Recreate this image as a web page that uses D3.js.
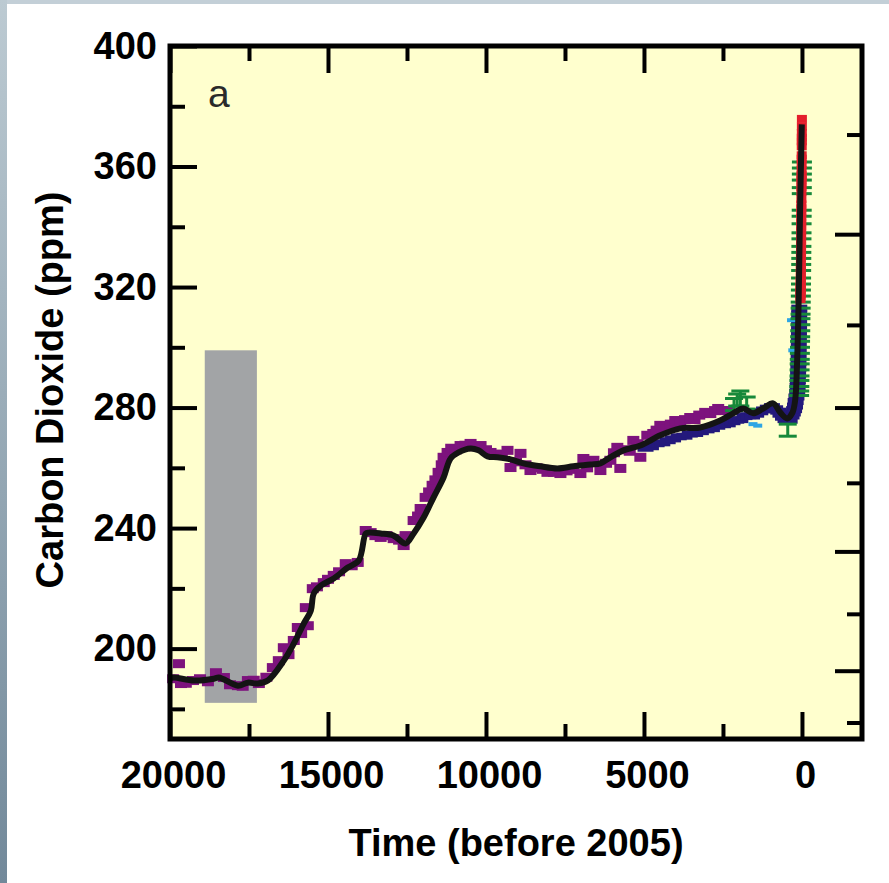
<!DOCTYPE html>
<html>
<head>
<meta charset="utf-8">
<script src="https://cdn.jsdelivr.net/npm/d3@7"></script>
<style>
  body { margin: 0; background: #fff; }
  svg { display: block; }
  text { font-family: "Liberation Sans", Arial, Helvetica, sans-serif; }
</style>
</head>
<body>
<svg id="chart" width="889" height="883"></svg>
<script>
// all points are [years before 2005, CO2 ppm]
var smoothCurve = [
  [20000,190.2],[19874,190.4],[19242,189.4],[18610,190.0],[18452,190.4],[17851,187.7],[17535,188.7],
  [17219,188.4],[16903,189.4],[16398,196.0],[16082,201.7],[15766,208.3],[15544,212.6],[15450,218.3],
  [15228,220.9],[14818,223.3],[14375,226.9],[14027,229.2],[13806,238.2],[13712,238.5],[13333,238.2],
  [12922,237.5],[12544,234.9],[12290,238.2],[11974,243.5],[11658,250.2],[11342,256.8],[11120,263.1],
  [10867,265.1],[10488,266.4],[10236,265.8],[9951,263.8],[9635,263.5],[9224,262.8],[8814,261.5],
  [8276,260.5],[7739,259.8],[7234,260.5],[6696,261.1],[6379,261.5],[6063,263.5],[5652,265.8],
  [5115,267.4],[4483,270.8],[3851,273.1],[3219,273.4],[2587,275.7],[2176,278.1],[1860,279.7],
  [1544,278.1],[1228,279.7],[912,281.4],[690,278.4],[469,276.4],[311,278.1],[216,282.4],
  [160,293.4],[105,315.6],[55,348.8],[5,374]
];

var purplePoints = [
  [19900,190],[19716,195.0],[19652,188.4],[19500,188.5],[19273,189.4],[19050,190],[18800,189],
  [18546,192.0],[18294,190.4],[18100,188],[17851,187.7],[17700,187.5],[17535,189.4],[17350,189.5],
  [17188,188.4],[16950,190.5],[16745,193.7],[16556,196.0],[16398,200.3],[16250,198],[16082,202.7],
  [15955,207.0],[15850,205],[15639,207.6],[15702,213.6],[15481,219.9],[15350,220.5],[15134,221.9],
  [15000,223],[14818,224.3],[14650,225.5],[14438,228.2],[14250,227.5],[14059,228.6],[13806,239.2],
  [13650,238.5],[13500,237.5],[13333,236.9],[13150,237.5],[12922,236.5],[12750,236],[12606,234.2],
  [12544,237.5],[12290,242.5],[12150,244],[12068,246.5],[11910,250.2],[11800,252],[11689,254.2],
  [11600,256],[11500,258.5],[11400,261],[11342,263.5],[11215,265.1],[11100,266.5],[10950,266],
  [10804,267.4],[10650,267.5],[10488,268.1],[10350,267],[10172,267.4],[10000,266],[9856,265.1],
  [9700,264.5],[9500,264.5],[9319,265.8],[9224,260.1],[9050,262],[8908,264.8],[8750,261],
  [8592,259.1],[8400,260],[8200,259.5],[8055,258.5],[7850,258.5],[7644,258.1],[7450,259],
  [7250,259.5],[7012,258.1],[6918,263.1],[6800,260],[6600,262.5],[6379,259.1],[6200,261.5],
  [6063,262.5],[5950,265],[5843,266.8],[5748,259.8],[5600,266],[5450,265.5],[5337,269.1],
  [5200,268],[5115,263.5],[4894,270.8],[4705,271.4],[4600,272.5],[4483,274.1],[4300,273],
  [4150,274.5],[4009,275.7],[3850,275],[3700,276],[3536,276.7],[3400,276],[3250,277.5],
  [3062,278.4],[2900,278],[2750,279],[2651,279.7],[2500,279],[2335,279.0]
];

var navyPoints = [
  [4950,266.5],[4780,267],[4600,268],[4420,268.3],[4250,269],[4080,269.6],[3900,270.3],[3720,270.5],
  [3550,271.2],[3380,271.4],[3200,272],[3020,272.6],[2850,273],[2680,273.8],[2500,274.3],[2350,274.6],
  [2200,275.3],[2080,275.8],[1950,276],[1820,277],[1700,277.3],[1580,277.2],[1450,277.8],[1320,278.6],
  [1200,279.2],[1080,279.8],[950,280.3],[850,279.6],[750,278.8],[680,277.8],[600,276.8],[520,276],
  [450,276.2],[390,275.8],[330,277.2],[290,278.2],[250,279.3],[220,280.5],[200,282],[175,283.5],
  [150,285],[138,287],[130,289],[122,291],[115,293],[110,295],[105,297],[102,299],[100,301],[97,303],
  [95,305],[92,307],[90,309],[88,311],[85,313]
];

var lightBluePoints = [[1550,274.5],[1400,274],[330,309],[290,299]];

// [years, ppm, half error]
var greenPoints = [
  [2150,281,2],[2050,282.5,2],[1950,283,2.5],[1750,281.5,2],[450,272.5,2],
  [90,284,0],[87,285.5,0],[84,287,0],[81,289,0],[78,290.5,0],[75,292.5,0],[72,294.5,0],[69,296,0],
  [66,298,0],[63,300,0],[60,302,0],[57,303.5,0],[54,305.5,0],[51,307.5,0],[48,309.5,0],[45,311,0],
  [42,313,0],[39,315,0],[36,317,0],[33,319,0],[30,321,0],[28,323,0],[26,325.5,0],[24,327.5,0],
  [22,329.5,0],[20,331.5,0],[18,333.5,0],[16,336,0],[14,338,0],[12,341,0],[10,343.5,0],[8,345.5,0],
  [6,351,0],[5,353,0],[4,355.5,0],[3,357.5,0],[2,359.5,0],[1,361.5,0]
];

var redPoints = [
  [46,315.98],[45,316.91],[44,317.64],[43,318.45],[42,318.99],[41,319.62],[40,320.04],[39,321.38],
  [38,322.16],[37,323.04],[36,324.62],[35,325.68],[34,326.32],[33,327.45],[32,329.68],[31,330.18],
  [30,331.11],[29,332.04],[28,333.83],[27,335.40],[26,336.84],[25,338.75],[24,340.11],[23,341.45],
  [22,343.05],[21,344.65],[20,346.12],[19,347.42],[18,349.19],[17,351.57],[16,353.12],[15,354.39],
  [14,355.61],[13,356.45],[12,357.10],[11,358.83],[10,360.82],[9,362.61],[8,363.73],[7,366.70],
  [6,368.38],[5,369.55],[4,371.14],[3,373.28],[2,375.80]
];

var grayBand = {years: [18900, 17250], ppm: [182, 299]};

var yearTicks = [20000, 15000, 10000, 5000, 0];
var yearMinor = [17500, 12500, 7500, 2500];
var ppmTicks = [200, 240, 280, 320, 360, 400];
var ppmMinor = [180, 220, 260, 300, 340, 380];
var forcingMajor = [-2, -1, 0, 1];
var forcingMinor = [-2.5, -1.5, -0.5, 0.5, 1.5];

var svg = d3.select("#chart");

// page frame
var defs = svg.append("defs");
var grad = defs.append("linearGradient").attr("id", "edge").attr("x1", 0).attr("y1", 0).attr("x2", 0).attr("y2", 1);
grad.append("stop").attr("offset", "0%").attr("stop-color", "#bccad2");
grad.append("stop").attr("offset", "100%").attr("stop-color", "#72899a");
svg.append("rect").attr("x", 0).attr("y", 0).attr("width", 889).attr("height", 4).attr("fill", "#c3cfd7");
svg.append("rect").attr("x", 0).attr("y", 0).attr("width", 7).attr("height", 883).attr("fill", "url(#edge)");

var plot = {left: 170, right: 862, top: 46, bottom: 739};

var x = d3.scaleLinear().domain([20000, -1900]).range([plot.left, plot.right]);
var y = d3.scaleLinear().domain([170, 400]).range([plot.bottom, plot.top]);
function forcingToPpm(f) { return 280 * Math.exp(f / 5.35); }

svg.append("rect")
  .attr("x", plot.left).attr("y", plot.top)
  .attr("width", plot.right - plot.left).attr("height", plot.bottom - plot.top)
  .attr("fill", "#ffffce");

svg.append("rect")
  .attr("x", x(grayBand.years[0])).attr("y", y(grayBand.ppm[1]))
  .attr("width", x(grayBand.years[1]) - x(grayBand.years[0]))
  .attr("height", y(grayBand.ppm[0]) - y(grayBand.ppm[1]))
  .attr("fill", "#a2a4a6");

function marks(data, color, w, h) {
  svg.append("g").selectAll("rect")
    .data(data)
    .enter().append("rect")
      .attr("x", function(d) { return x(d[0]) - w / 2; })
      .attr("y", function(d) { return y(d[1]) - h / 2; })
      .attr("width", w)
      .attr("height", h)
      .attr("fill", color);
}

marks(purplePoints, "#7d137d", 12, 9);
marks(navyPoints, "#24197c", 16, 7);
marks(lightBluePoints, "#2ea6e4", 9, 4);

// green error bars
var gg = svg.append("g").attr("stroke", "#17893a").attr("stroke-width", 3);
greenPoints.forEach(function(d) {
  var cx = x(d[0]);
  if (d[2] > 0) {
    gg.append("line").attr("x1", cx).attr("x2", cx).attr("y1", y(d[1] - d[2])).attr("y2", y(d[1] + d[2]));
    gg.append("line").attr("x1", cx - 9).attr("x2", cx + 9).attr("y1", y(d[1] - d[2])).attr("y2", y(d[1] - d[2]));
    gg.append("line").attr("x1", cx - 9).attr("x2", cx + 9).attr("y1", y(d[1] + d[2])).attr("y2", y(d[1] + d[2]));
  } else {
    gg.append("line").attr("x1", cx - 10).attr("x2", cx + 10).attr("y1", y(d[1])).attr("y2", y(d[1]));
  }
});

marks(redPoints, "#e41f2c", 10, 8);

var line = d3.line()
  .x(function(d) { return x(d[0]); })
  .y(function(d) { return y(d[1]); })
  .curve(d3.curveCatmullRom.alpha(0.5));

svg.append("path")
  .datum(smoothCurve)
  .attr("d", line)
  .attr("fill", "none")
  .attr("stroke", "#141414")
  .attr("stroke-width", 6)
  .attr("stroke-linejoin", "round");

// axes
function styleAxis(g) {
  g.select(".domain").remove();
  g.selectAll(".tick line").attr("stroke", "#000").attr("stroke-width", 4);
  g.selectAll(".tick text").attr("fill", "#000").attr("font-size", 38).attr("font-weight", "bold");
}

svg.append("g").attr("transform", "translate(" + plot.left + ",0)")
  .call(d3.axisLeft(y).tickValues(ppmTicks).tickSize(-27).tickPadding(13))
  .call(styleAxis);
svg.append("g").attr("transform", "translate(" + plot.left + ",0)")
  .call(d3.axisLeft(y).tickValues(ppmMinor).tickSize(-15).tickFormat(""))
  .call(styleAxis);

svg.append("g").attr("transform", "translate(0," + plot.bottom + ")")
  .call(d3.axisBottom(x).tickValues(yearTicks).tickSize(-27).tickPadding(22).tickFormat(d3.format("d")))
  .call(styleAxis)
  .selectAll(".tick text").attr("dx", 3);
svg.append("g").attr("transform", "translate(0," + plot.bottom + ")")
  .call(d3.axisBottom(x).tickValues(yearMinor).tickSize(-15).tickFormat(""))
  .call(styleAxis);

svg.append("g").attr("transform", "translate(0," + plot.top + ")")
  .call(d3.axisTop(x).tickValues(yearTicks).tickSize(-27).tickFormat(""))
  .call(styleAxis);
svg.append("g").attr("transform", "translate(0," + plot.top + ")")
  .call(d3.axisTop(x).tickValues(yearMinor).tickSize(-15).tickFormat(""))
  .call(styleAxis);

svg.append("g").attr("transform", "translate(" + plot.right + ",0)")
  .call(d3.axisRight(y).tickValues(forcingMajor.map(forcingToPpm)).tickSize(-27).tickFormat(""))
  .call(styleAxis);
svg.append("g").attr("transform", "translate(" + plot.right + ",0)")
  .call(d3.axisRight(y).tickValues(forcingMinor.map(forcingToPpm)).tickSize(-15).tickFormat(""))
  .call(styleAxis);

svg.append("rect")
  .attr("x", plot.left).attr("y", plot.top)
  .attr("width", plot.right - plot.left).attr("height", plot.bottom - plot.top)
  .attr("fill", "none")
  .attr("stroke", "#000")
  .attr("stroke-width", 5);

svg.append("text")
  .attr("x", 208).attr("y", 107)
  .attr("font-family", "'Open Sans', sans-serif")
  .attr("font-size", 39)
  .attr("fill", "#2a2a2a")
  .text("a");

svg.append("text")
  .attr("transform", "translate(63,390) rotate(-90)")
  .attr("text-anchor", "middle")
  .attr("font-size", 38)
  .attr("font-weight", "bold")
  .text("Carbon Dioxide (ppm)");

svg.append("text")
  .attr("x", 516).attr("y", 856)
  .attr("text-anchor", "middle")
  .attr("font-size", 38)
  .attr("font-weight", "bold")
  .text("Time (before 2005)");
</script>
</body>
</html>
